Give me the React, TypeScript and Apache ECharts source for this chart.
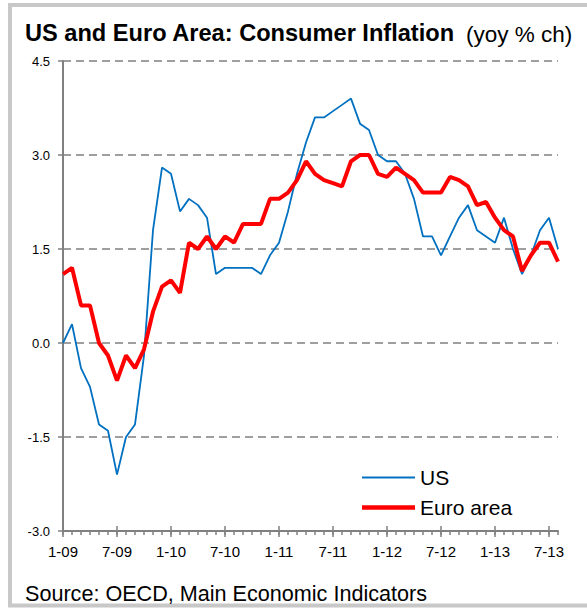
import React, { useEffect, useRef } from "react";
import * as echarts from "echarts";

const categories = [
  "1-09","2-09","3-09","4-09","5-09","6-09","7-09","8-09","9-09","10-09","11-09","12-09",
  "1-10","2-10","3-10","4-10","5-10","6-10","7-10","8-10","9-10","10-10","11-10","12-10",
  "1-11","2-11","3-11","4-11","5-11","6-11","7-11","8-11","9-11","10-11","11-11","12-11",
  "1-12","2-12","3-12","4-12","5-12","6-12","7-12","8-12","9-12","10-12","11-12","12-12",
  "1-13","2-13","3-13","4-13","5-13","6-13","7-13","8-13",
];

const usValues = [
  0.0, 0.3, -0.4, -0.7, -1.3, -1.4, -2.1, -1.5, -1.3, -0.2, 1.8, 2.8,
  2.7, 2.1, 2.3, 2.2, 2.0, 1.1, 1.2, 1.2, 1.2, 1.2, 1.1, 1.4,
  1.6, 2.1, 2.7, 3.2, 3.6, 3.6, 3.7, 3.8, 3.9, 3.5, 3.4, 3.0,
  2.9, 2.9, 2.7, 2.3, 1.7, 1.7, 1.4, 1.7, 2.0, 2.2, 1.8, 1.7,
  1.6, 2.0, 1.5, 1.1, 1.4, 1.8, 2.0, 1.5,
];

const euroValues = [
  1.1, 1.2, 0.6, 0.6, 0.0, -0.2, -0.6, -0.2, -0.4, -0.1, 0.5, 0.9,
  1.0, 0.8, 1.6, 1.5, 1.7, 1.5, 1.7, 1.6, 1.9, 1.9, 1.9, 2.3,
  2.3, 2.4, 2.6, 2.9, 2.7, 2.6, 2.55, 2.5, 2.9, 3.0, 3.0, 2.7,
  2.65, 2.8, 2.7, 2.6, 2.4, 2.4, 2.4, 2.65, 2.6, 2.5, 2.2, 2.25,
  2.0, 1.8, 1.7, 1.15, 1.4, 1.6, 1.6, 1.3,
];

const seriesNames = ["US", "Euro area"];
const titleText = "US and Euro Area: Consumer Inflation";
const unitText = "(yoy % ch)";
const sourceText = "Source: OECD, Main Economic Indicators";

const FONT = 'Arial, "Liberation Sans", sans-serif';
const AXIS_COLOR = "#808080";

export default function App() {
  const ref = useRef<HTMLDivElement>(null);

  useEffect(() => {
    if (!ref.current) return;
    const chart = echarts.init(ref.current, undefined, { renderer: "svg" });

    const baseX = {
      type: "category",
      data: categories,
      boundaryGap: false,
      position: "bottom",
      axisLine: { onZero: false, show: false },
      axisLabel: { show: false },
      splitLine: { show: false },
    };

    const option = {
      animation: false,
      backgroundColor: "#ffffff",
      textStyle: { fontFamily: FONT },
      grid: { left: 63, right: 29, top: 61, bottom: 79, containLabel: false },
      xAxis: [
        {
          type: "category",
          data: categories,
          boundaryGap: false,
          position: "bottom",
          axisLine: { onZero: false, show: true, lineStyle: { color: AXIS_COLOR, width: 2 } },
          axisTick: { show: true, interval: 0, length: 4, lineStyle: { color: AXIS_COLOR, width: 1.5 } },
          axisLabel: { interval: 5, fontSize: 15, color: "#000", margin: 13, fontFamily: FONT },
          splitLine: { show: false },
        },
        {
          ...baseX,
          axisTick: { show: true, interval: 5, length: 6, lineStyle: { color: AXIS_COLOR, width: 1.5 } },
        },
        {
          ...baseX,
          axisTick: { show: true, interval: 5, inside: true, length: 5, lineStyle: { color: AXIS_COLOR, width: 1.5 } },
        },
      ],
      yAxis: {
        type: "value",
        min: -3,
        max: 4.5,
        interval: 1.5,
        axisLine: { show: true, lineStyle: { color: AXIS_COLOR, width: 2 } },
        axisTick: { show: true, length: 5, lineStyle: { color: AXIS_COLOR, width: 1.5 } },
        axisLabel: {
          formatter: (v: number) => v.toFixed(1),
          fontSize: 13,
          color: "#000",
          margin: 13,
          fontFamily: FONT,
        },
        splitLine: { show: true, lineStyle: { type: [8, 5], color: AXIS_COLOR, width: 1.6 } },
      },
      legend: {
        data: [
          { name: seriesNames[0], icon: "path://M0,0H53V2H0Z" },
          { name: seriesNames[1], icon: "path://M0,0H53V4.5H0Z" },
        ],
        orient: "vertical",
        left: 357,
        top: 462,
        itemWidth: 53,
        itemHeight: 14,
        itemGap: 9,
        symbolKeepAspect: true,
        textStyle: { fontSize: 21, color: "#000", fontFamily: FONT },
      },
      series: [
        {
          name: seriesNames[0],
          type: "line",
          data: usValues,
          xAxisIndex: 0,
          symbol: "none",
          lineStyle: { color: "#0070C0", width: 1.8 },
          itemStyle: { color: "#0070C0" },
        },
        {
          name: seriesNames[1],
          type: "line",
          data: euroValues,
          xAxisIndex: 0,
          symbol: "none",
          lineStyle: { color: "#FF0000", width: 4 },
          itemStyle: { color: "#FF0000" },
        },
      ],
      graphic: [
        {
          type: "rect",
          shape: { x: 10, y: 5, width: 600, height: 600.5 },
          style: { fill: "none", stroke: "#c8c8c8", lineWidth: 4 },
          silent: true,
        },
        {
          type: "text",
          x: 25,
          y: 33,
          style: {
            text: titleText,
            font: `bold 23.6px ${FONT}`,
            fill: "#000",
            textAlign: "left",
            textVerticalAlign: "middle",
          },
        },
        {
          type: "text",
          x: 466,
          y: 34,
          style: {
            text: unitText,
            font: `22.5px ${FONT}`,
            fill: "#000",
            textAlign: "left",
            textVerticalAlign: "middle",
          },
        },
        {
          type: "text",
          x: 25,
          y: 593,
          style: {
            text: sourceText,
            font: `21.6px ${FONT}`,
            fill: "#000",
            textAlign: "left",
            textVerticalAlign: "middle",
          },
        },
      ],
    };

    chart.setOption(option as any);
    return () => chart.dispose();
  }, []);

  return (
    <div
      ref={ref}
      style={{ position: "absolute", left: 0, top: 0, width: 587, height: 610 }}
    />
  );
}
